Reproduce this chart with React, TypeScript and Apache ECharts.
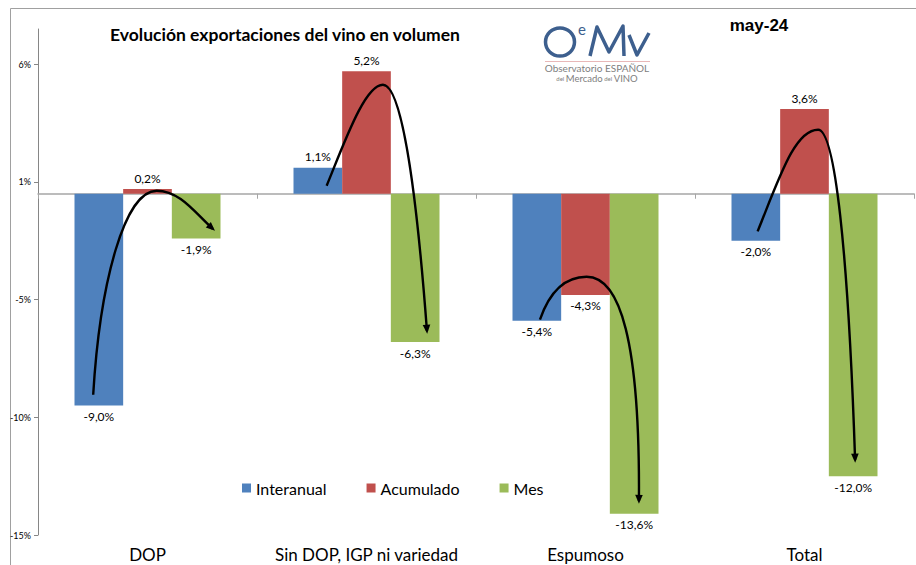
import React, { useEffect, useRef } from "react";
import * as echarts from "echarts";

const categories = ["DOP", "Sin DOP, IGP ni variedad", "Espumoso", "Total"];
const seriesNames = ["Interanual", "Acumulado", "Mes"];
const interanual = [-9.0, 1.1, -5.4, -2.0];
const acumulado = [0.2, 5.2, -4.3, 3.6];
const mes = [-1.9, -6.3, -13.6, -12.0];
const colors = ["#4F81BD", "#C0504D", "#9BBB59"];
const yTicks = [-14.5, -9.5, -4.5, 0.5, 5.5];
const yMin = -14.5;
const yMax = 7;

// Arrow annotations: [offset from category centre in category widths, value %]
// start, ctrl, ctrl, peak, ctrl, ctrl, tip
const arrowDOP = [[-0.248, -8.54], [-0.217, -3.7], [-0.103, 0.13], [0.042, 0.13], [0.148, 0.13], [0.217, -0.81], [0.298, -1.49]];
const arrowSinDOP = [[-0.182, 0.34], [-0.098, 2.25], [-0.007, 4.63], [0.075, 4.63], [0.153, 4.63], [0.221, 0.98], [0.276, -5.82]];
const arrowEspumoso = [[-0.208, -5.35], [-0.162, -4.12], [-0.094, -3.53], [0.005, -3.53], [0.158, -3.53], [0.249, -6.25], [0.244, -13.05]];
const arrowTotal = [[-0.214, -1.6], [-0.112, 0.76], [-0.043, 2.72], [0.062, 2.72], [0.139, 2.72], [0.199, -2.42], [0.231, -11.3]];
const arrows = [arrowDOP, arrowSinDOP, arrowEspumoso, arrowTotal];

const FONT = "Lato, 'Open Sans', sans-serif";

const fmtPct = (v: number) => v.toFixed(1).replace(".", ",") + "%";
const fmtTick = (v: number) => Math.sign(v) * Math.round(Math.abs(v)) + "%";

function barSeries(name: string, values: number[], color: string) {
  return {
    type: "bar",
    name,
    xAxisIndex: 0,
    yAxisIndex: 0,
    barGap: "0%",
    barCategoryGap: "33.33%",
    itemStyle: { color },
    data: values.map((v) => ({
      value: v,
      label: { position: v >= 0 ? "top" : "bottom" },
    })),
    label: {
      show: true,
      distance: 5,
      color: "#000",
      fontSize: 12,
      fontFamily: FONT,
      formatter: (p: any) => fmtPct(p.value),
    },
  };
}

export default function App() {
  const ref = useRef<HTMLDivElement>(null);
  useEffect(() => {
    document.body.style.margin = "0";
    const chart = echarts.init(ref.current!, null, { renderer: "svg" });
    const option: any = {
      animation: false,
      backgroundColor: "#fff",
      grid: { left: 38, right: 2, top: 29, bottom: 30, containLabel: false },
      legend: {
        data: seriesNames,
        left: 237,
        top: 475,
        icon: "rect",
        itemWidth: 9,
        itemHeight: 9,
        itemGap: 40,
        textStyle: { fontSize: 16, color: "#000", fontFamily: FONT },
      },
      xAxis: [
        {
          type: "category",
          data: categories,
          position: "bottom",
          axisLine: { onZero: true, lineStyle: { color: "#A6A6A6", width: 1.5 } },
          axisTick: { show: true, length: 5, lineStyle: { color: "#A6A6A6" } },
          axisLabel: { show: false },
          splitLine: { show: false },
        },
        {
          type: "category",
          data: categories,
          position: "bottom",
          axisLine: { show: false, onZero: false },
          axisTick: { show: false },
          axisLabel: { show: true, interval: 0, fontSize: 17, color: "#000", margin: 11, fontFamily: FONT },
          splitLine: { show: false },
        },
      ],
      yAxis: {
        type: "value",
        min: yMin,
        max: yMax,
        axisLine: { show: true, lineStyle: { color: "#868686" } },
        axisTick: { show: true, length: 4, customValues: yTicks, lineStyle: { color: "#868686" } },
        axisLabel: {
          show: true,
          customValues: yTicks,
          fontSize: 9,
          color: "#000",
          margin: 7,
          fontFamily: FONT,
          formatter: (v: number) => fmtTick(v),
        },
        splitLine: { show: false },
      },
      series: [
        barSeries(seriesNames[0], interanual, colors[0]),
        barSeries(seriesNames[1], acumulado, colors[1]),
        barSeries(seriesNames[2], mes, colors[2]),
        {
          type: "custom",
          name: "arrows",
          xAxisIndex: 0,
          yAxisIndex: 0,
          silent: true,
          clip: false,
          z: 10,
          encode: { x: 0, y: 1 },
          data: arrows.map((_, i) => [i, 0]),
          renderItem: (params: any, api: any) => {
            const idx = api.value(0);
            const pts = arrows[idx];
            const cx = api.coord([idx, 0])[0];
            const band = api.size([1, 0])[0];
            const P = pts.map(([dx, v]) => [cx + dx * band, api.coord([idx, v])[1]]);
            const s = (p: number[]) => `${p[0].toFixed(2)},${p[1].toFixed(2)}`;
            const d = `M${s(P[0])} C${s(P[1])} ${s(P[2])} ${s(P[3])} C${s(P[4])} ${s(P[5])} ${s(P[6])}`;
            const tip = P[6];
            let dx = tip[0] - P[5][0];
            let dy = tip[1] - P[5][1];
            const len = Math.hypot(dx, dy) || 1;
            dx /= len;
            dy /= len;
            const head = [tip[0] + dx * 3, tip[1] + dy * 3];
            const base = [tip[0] - dx * 6, tip[1] - dy * 6];
            const nx = -dy, ny = dx;
            const w = 3.8;
            return {
              type: "group",
              children: [
                {
                  type: "path",
                  shape: { pathData: d },
                  style: { stroke: "#000", lineWidth: 2.4, fill: null },
                },
                {
                  type: "polygon",
                  shape: {
                    points: [head, [base[0] + nx * w, base[1] + ny * w], [base[0] - nx * w, base[1] - ny * w]],
                  },
                  style: { fill: "#000", stroke: null },
                },
              ],
            };
          },
        },
      ],
      graphic: [
        {
          type: "rect",
          shape: { x: 10.5, y: 8.5, width: 1000, height: 1000 },
          style: { fill: null, stroke: "#A0A0A0", lineWidth: 1 },
          silent: true,
          z: -10,
        },
        {
          type: "text",
          x: 285,
          y: 34,
          style: {
            text: "Evolución exportaciones del vino en volumen",
            font: `bold 17.5px ${FONT}`,
            fill: "#000",
            align: "center",
            verticalAlign: "middle",
          },
        },
        {
          type: "text",
          x: 759,
          y: 25,
          style: {
            text: "may-24",
            font: "bold 17px 'Liberation Sans', Arial, sans-serif",
            fill: "#000",
            align: "center",
            verticalAlign: "middle",
          },
        },
        // Logo
        {
          type: "ellipse",
          shape: { cx: 560, cy: 42, rx: 14.5, ry: 14 },
          style: { fill: null, stroke: "#3D5F8E", lineWidth: 3.5 },
        },
        {
          type: "text",
          x: 582,
          y: 29,
          style: { text: "e", font: `15px ${FONT}`, fill: "#3D5F8E", align: "center", verticalAlign: "middle" },
        },
        {
          type: "polyline",
          shape: { points: [[590, 56], [597, 27], [609, 52], [623, 26], [624, 56]] },
          style: { stroke: "#3D5F8E", lineWidth: 3.5, fill: null, lineJoin: "round" },
        },
        {
          type: "polyline",
          shape: { points: [[629, 35], [637, 55], [649, 33]] },
          style: { stroke: "#3D5F8E", lineWidth: 3.5, fill: null, lineJoin: "round" },
        },
        {
          type: "line",
          shape: { x1: 545, y1: 61.5, x2: 650, y2: 61.5 },
          style: { stroke: "#E8B8B8", lineWidth: 1 },
        },
        {
          type: "text",
          x: 597,
          y: 68,
          style: { text: "Observatorio ESPAÑOL", font: `10px ${FONT}`, fill: "#808080", align: "center", verticalAlign: "middle" },
        },
        {
          type: "text",
          x: 597,
          y: 78,
          style: {
            text: "{s|del }{b|Mercado}{s| del }{b|VINO}",
            align: "center",
            verticalAlign: "middle",
            rich: {
              s: { fontSize: 6, fill: "#808080", fontFamily: FONT },
              b: { fontSize: 9.5, fill: "#808080", fontFamily: FONT },
            },
          },
        },
      ],
    };
    chart.setOption(option);
    return () => chart.dispose();
  }, []);
  return (
    <div
      ref={ref}
      style={{ position: "absolute", left: 0, top: 0, width: 916, height: 565, background: "#fff" }}
    />
  );
}
